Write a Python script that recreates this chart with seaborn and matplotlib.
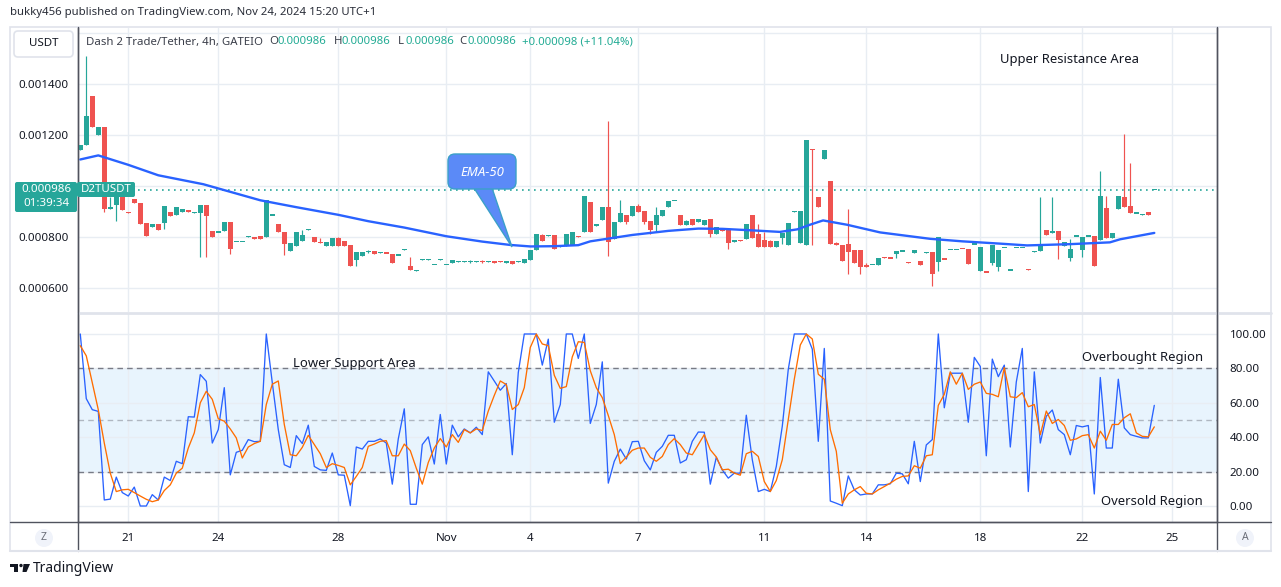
import numpy as np
import pandas as pd
import matplotlib
matplotlib.use("Agg")
import matplotlib.pyplot as plt
import seaborn as sns
from matplotlib.patches import Rectangle, FancyBboxPatch, Polygon, Circle
from matplotlib.lines import Line2D
from matplotlib.transforms import IdentityTransform

# ---------------- data (prices in millionths of USDT) ----------------
opens = [1143,1159,1354,1200,1230,909,925,956,899,948,933,855,840,850,855,897,887,897,905,896,
         893,926,825,818,825,858,783,783,800,801,805,801,886,852,818,747,766,786,829,800,
         781,766,766,796,786,769,708,727,741,745,739,740,734,729,749,688,668,710,710,690,
         710,690,698,703,703,703,703,705,703,705,705,698,705,703,698,711,748,808,804,808,
         760,766,769,805,821,938,842,868,918,792,860,886,883,920,901,864,847,883,917,941,
         886,848,870,859,847,870,812,835,831,782,788,792,886,812,788,784,761,796,769,899,
         776,769,1146,956,1104,1018,776,769,773,749,749,691,690,689,721,718,734,744,702,738,
         707,739,742,702,714,751,751,757,753,771,667,664,699,684,759,670,759,759,674,743,
         745,827,816,823,765,718,803,749,803,804,788,914,796,910,956,921,893,888,897,986]
closes = [1159,1276,1230,1230,909,917,956,906,895,933,852,805,852,827,922,883,918,909,897,898,
          926,883,801,821,858,753,784,784,802,794,794,944,888,818,773,777,818,808,831,779,
          775,779,796,766,766,688,740,740,743,734,741,736,698,731,751,669,670,712,712,692,
          712,692,709,705,705,705,705,703,705,698,703,705,695,705,713,749,812,786,806,751,
          766,812,821,801,959,821,851,918,782,860,896,860,920,897,860,829,886,906,942,943,
          848,863,847,870,866,812,839,823,776,788,786,851,796,761,761,761,784,816,855,901,
          901,1182,1140,918,1143,773,767,704,742,698,684,684,692,717,716,716,745,746,700,749,
          689,741,656,801,712,753,753,755,695,773,761,662,769,749,761,672,761,761,672,745,
          769,809,823,788,781,753,805,800,805,687,960,796,816,960,918,895,895,890,887,986]
highs = [1159,1510,1354,1230,1230,956,956,956,899,948,933,855,852,850,922,897,918,909,905,898,
         926,926,825,821,858,858,784,784,802,801,805,944,888,852,818,777,818,828,831,800,
         796,779,796,800,786,769,740,740,750,745,741,740,734,731,751,721,670,712,712,692,
         712,692,709,705,705,709,705,709,705,705,705,705,705,705,713,749,812,812,806,808,
         766,812,821,805,959,938,851,918,1256,860,944,886,920,929,901,864,916,906,942,943,
         886,868,870,870,866,870,839,835,831,788,788,851,886,851,821,788,784,816,855,901,
         901,1182,1146,956,1143,1018,780,769,909,749,749,699,692,717,721,718,745,746,702,749,
         707,741,742,801,714,753,753,757,753,773,761,664,769,749,761,672,761,761,674,745,
         956,827,956,823,781,792,805,800,805,804,1057,960,816,960,1202,1089,895,890,897,986]
lows = [1143,1159,1230,1200,897,909,862,906,895,933,852,805,840,827,831,883,887,897,897,896,
        723,723,801,818,825,734,783,783,800,794,794,801,886,818,731,747,766,786,829,779,
        775,766,766,766,766,688,686,727,737,734,739,736,698,729,749,669,668,710,710,690,
        710,690,698,703,703,700,703,700,703,698,703,698,695,703,698,711,748,786,804,751,
        760,766,769,801,821,821,842,868,725,792,860,851,883,897,851,812,821,883,917,941,
        848,848,847,859,847,801,812,823,753,782,786,792,796,761,761,761,761,773,769,899,
        776,769,769,918,1104,773,767,704,656,698,656,684,690,689,716,716,718,744,700,738,
        689,739,607,665,712,751,751,755,695,771,667,662,690,667,759,670,759,759,672,743,
        745,809,816,714,765,706,803,722,803,687,788,796,796,910,918,895,893,888,887,986]

ema_idx = [0, 3, 8, 13, 20.5, 30, 36, 43, 48, 54, 61, 67, 71.6, 75, 79, 83, 85, 92, 98, 103, 107,
           112, 116.6, 119.5, 121.6, 123.8, 127.8, 133.3, 141.6, 147, 153.3, 157.8, 165, 171.6, 173.3, 179]
ema_vals = [1104, 1120, 1083, 1042, 1007, 944, 917, 887, 862, 837, 803, 782, 769, 763, 764, 768, 783,
            808, 824, 833, 832, 826, 820, 830, 848, 865, 848, 818, 793, 783, 774, 767, 772, 779, 791, 816]

stoch_k = [100,62.4,56,55,3.5,4,16.8,7.8,5.8,11,0,0,6.6,3.5,16.8,14.8,26,24.6,51.9,51.7,
           76.4,72.5,36.6,44.4,68.8,18.1,31.2,32.4,38.6,37.4,37.6,100,71.7,44.4,24,22.4,40.9,36.3,47,23,
           21,20.7,30.8,18.1,17.9,0.2,34.3,33.1,37.6,37.6,39,36.6,12.7,39,56.5,1,1,35.7,40.2,24.4,
           53.2,24.4,47,40.2,44.8,42.5,45.8,41.5,78,72.7,67.3,71.2,29.8,77.6,100,100,100,81.9,97,48.7,
           59,100,100,85.8,100,48,59,83.8,13.3,26,33.1,27.3,37.4,37.6,26.3,21,31.2,34.7,41.1,41.1,
           25,26.9,37.6,43,42.9,12.7,28.3,21,16.2,19.1,19.1,52.8,26.9,8.4,9.7,8.4,23,46.4,79.5,100,
           100,100,91.2,37.6,91.6,2.9,1.6,0.2,17.5,9.4,6.4,7,7,12.3,12.3,12.9,19.1,18.7,12.9,37.6,
           14.2,35.5,38.6,100,57.1,77.2,77.2,77.2,48.7,86.4,81.1,29.2,85.4,75.2,81.9,34.3,72.1,91.6,8.4,78,
           36.6,52.2,55.8,44.4,41.5,29.8,46.8,46,46.8,7,74.7,33.7,33.7,73.7,45.4,41.5,40.5,39.6,39.6,58.5]
stoch_d = [93.2,87.3,71.7,56,36.6,19.1,8.4,9.4,9.7,7.8,5.8,3.9,2.5,3.5,9,12.3,19.1,22,33.7,42.5,
           60,66.7,62,50.7,49.3,44.8,39.6,27.9,34.3,36.3,37.6,59,70.8,72.7,47.4,29.8,29.2,34.1,41.1,35.7,
           30.4,22.4,24.6,23.6,22.4,12.3,17.2,22.4,34.7,36,37.6,38,29.2,29.2,36,32.2,22,12.7,25.3,33.7,
           39.2,34.3,41.5,37,44.4,42.5,44.8,43.9,55.2,64.3,72.7,70.6,56.1,59,68.8,92.2,100,94.2,93.2,76,
           68.4,69.4,86.7,95.5,95.1,78.6,68.8,63,52.6,41.5,24.6,28.5,32.4,33.7,33.7,28.3,26,28.8,35.7,39.2,
           35.7,30.8,29.8,35.7,41.5,32.7,28.5,21,21.4,19.1,17.9,30.4,31.8,28.8,14.2,8.4,14.8,26.9,50.3,73.7,
           93.6,100,97.1,76.6,73.7,44.4,31.8,1.6,7,9.4,11.3,7.4,7,9.4,11.3,13.3,15.6,17.2,17.5,23.4,
           22,29.2,29.8,58.5,64.9,78,70.8,77.2,67.8,70.8,72.1,65.5,64.9,63.5,80.5,63.5,63,65.9,57.7,59,
           41.5,55.2,48,50.3,46.8,38.2,39,40.9,41.5,33.7,43.5,38.2,47.4,47.4,51.3,53.6,42.5,40.5,40.2,46]

tick_pos = [8, 23, 43, 61, 75, 93, 114, 131, 150, 167, 182]
tick_labels = ["21", "24", "28", "Nov", "4", "7", "11", "14", "18", "22", "25"]
price_ticks = [0.0006, 0.0008, 0.0010, 0.0012, 0.0014, 0.0016]
price_tick_labels = ["0.000600", "0.000800", "", "0.001200", "0.001400", ""]
stoch_ticks = [0, 20, 40, 60, 80, 100]
last_price = 0.000986

# ---------------- styling ----------------
sns.set_theme(style="white")
plt.rcParams['font.family'] = ['Noto Sans', 'DejaVu Sans']

GREEN, RED, BLUE, ORANGE = '#26a69a', '#ef5350', '#2962ff', '#ff6d00'
GRID, DARK, TXT = '#e8edf3', '#50535e', '#131722'
W, H = 1281, 587
fig = plt.figure(figsize=(W / 100, H / 100), dpi=100)
fig.patch.set_facecolor('white')
PX = IdentityTransform()


def rect(x0, y0, x1, y1):
    return [x0 / W, 1 - y1 / H, (x1 - x0) / W, (y1 - y0) / H]


def ptext(x, y, s, **kw):
    return fig.text(x, H - y, s, transform=PX, **kw)


def pline(xs, ys, **kw):
    fig.add_artist(Line2D(xs, [H - v for v in ys], transform=PX, **kw))


xmin, xmax = -0.38, 189.45
ax = fig.add_axes(rect(78, 28, 1217, 312))
ax2 = fig.add_axes(rect(78, 313, 1217, 522))

# ---------------- price panel ----------------
o = np.array(opens) * 1e-6
c = np.array(closes) * 1e-6
h = np.array(highs) * 1e-6
l = np.array(lows) * 1e-6
idx = np.arange(len(o))
cols = np.where(c >= o, GREEN, RED)
ax.vlines(idx, l, h, colors=cols, lw=0.85, zorder=3)
bot = np.minimum(o, c)
hgt = np.abs(c - o)
minh = 5.5e-6
small = hgt < minh
bot = np.where(small, (o + c) / 2 - minh / 2, bot)
hgt = np.where(small, minh, hgt)
ax.bar(idx, hgt, bottom=bot, width=0.8, color=cols, lw=0, zorder=4)

ema_df = pd.DataFrame({"i": ema_idx, "ema": np.array(ema_vals) * 1e-6})
sns.lineplot(data=ema_df, x="i", y="ema", ax=ax, color=BLUE, lw=1.7, zorder=5)
ax.axhline(last_price, color=GREEN, ls=(0, (1, 2.6)), lw=1.2, zorder=2)

ax.set_xlim(xmin, xmax)
ax.set_ylim(0.0005059, 0.0016196)
ax.set_yticks(price_ticks)
ax.set_yticklabels(price_tick_labels)
ax.set_xticks(tick_pos)
ax.set_xticklabels([])
ax.grid(True, color=GRID, lw=1)
ax.set_axisbelow(True)
ax.tick_params(axis='y', length=0, pad=7, labelsize=8.3, labelcolor=TXT)
ax.tick_params(axis='x', length=0)
ax.set_xlabel('')
ax.set_ylabel('')
for s in ['top', 'bottom']:
    ax.spines[s].set_visible(False)
for s in ['left', 'right']:
    ax.spines[s].set_color(DARK)
    ax.spines[s].set_linewidth(1)

# ---------------- stoch RSI panel ----------------
ax2.axhspan(20, 80, color='#2196f3', alpha=0.1, lw=0, zorder=0)
st = pd.DataFrame({"i": idx, "k": stoch_k, "d": stoch_d})
sns.lineplot(data=st, x="i", y="k", ax=ax2, color=BLUE, lw=0.95, zorder=4)
sns.lineplot(data=st, x="i", y="d", ax=ax2, color=ORANGE, lw=0.95, zorder=5)
ax2.axhline(80, color='#787b86', ls=(0, (4, 3)), lw=1, zorder=2)
ax2.axhline(20, color='#787b86', ls=(0, (4, 3)), lw=1, zorder=2)
ax2.axhline(50, color='#787b86', alpha=0.5, ls=(0, (4, 3)), lw=1, zorder=2)
ax2.set_xlim(xmin, xmax)
ax2.set_ylim(-9.3, 112.2)
ax2.yaxis.tick_right()
ax2.set_yticks(stoch_ticks)
ax2.set_yticklabels([f"{v:.2f}" for v in stoch_ticks])
ax2.set_xticks(tick_pos)
ax2.set_xticklabels(tick_labels)
ax2.grid(True, color=GRID, lw=1)
ax2.set_axisbelow(True)
ax2.tick_params(axis='y', length=0, pad=9, labelsize=8.3, labelcolor=TXT)
ax2.tick_params(axis='x', length=0, pad=8, labelsize=8.3, labelcolor=TXT)
ax2.set_xlabel('')
ax2.set_ylabel('')
ax2.spines['top'].set_visible(False)
for s in ['left', 'right', 'bottom']:
    ax2.spines[s].set_color(DARK)
    ax2.spines[s].set_linewidth(1)

# ---------------- frame & decorations ----------------
fig.add_artist(Rectangle((10, H - 551), 1261, 524, transform=PX, fill=False,
                         ec='#e0e3eb', lw=1.2, zorder=0))
pline([78, 1271], [312.5, 312.5], color='#e0e3eb', lw=2)
pline([10, 1271], [522, 522], color=DARK, lw=1)
pline([77.5, 77.5], [27, 551], color=DARK, lw=1)
pline([1217, 1217], [27, 551], color=DARK, lw=1)
pline([10, 1271], [550.5, 550.5], color='#e0e3eb', lw=1.5)

ptext(10, 13, "bukky456 published on TradingView.com, Nov 24, 2024 15:20 UTC+1",
      fontsize=8.2, color='#2a2e39', va='center', ha='left')

# USDT box
fig.add_artist(FancyBboxPatch((14, H - 57), 59, 26, boxstyle="round,pad=0,rounding_size=4",
                              transform=PX, fc='white', ec='#e0e3eb', lw=1.2))
ptext(43.5, 44, "USDT", fontsize=8.3, color=TXT, ha='center', va='center')

# header legend
GRAYT, VAL = '#3b3f4a', '#22ab94'
segs = [("Dash 2 Trade/Tether, 4h, GATEIO", 86, GRAYT), ("O", 269, GRAYT), ("0.000986", 277, VAL),
        ("H", 334, GRAYT), ("0.000986", 342, VAL), ("L", 398, GRAYT), ("0.000986", 405, VAL),
        ("C", 459, GRAYT), ("0.000986", 467, VAL), ("+0.000098 (+11.04%)", 522, VAL)]
for s, x, col in segs:
    ptext(x, 42, s, fontsize=8.2, color=col, ha='left', va='center')

# last price labels
fig.add_artist(FancyBboxPatch((15, H - 212), 62, 30, boxstyle="round,pad=0,rounding_size=2",
                              transform=PX, fc=GREEN, ec='none', zorder=10))
fig.add_artist(FancyBboxPatch((77, H - 197), 58, 15, boxstyle="round,pad=0,rounding_size=2",
                              transform=PX, fc=GREEN, ec='none', zorder=10))
ptext(46, 190, "0.000986", fontsize=8.3, color='white', weight='bold', ha='center', va='center', zorder=11)
ptext(46, 204, "01:39:34", fontsize=8.3, color='white', ha='center', va='center', zorder=11)
ptext(106, 190, "D2TUSDT", fontsize=8.3, color='white', weight='bold', ha='center', va='center', zorder=11)

# EMA-50 callout
fig.add_artist(Polygon([(474, H - 188), (492, H - 188), (512, H - 247)], closed=True,
                       transform=PX, fc='#5b8af7', ec='#3aa0c8', lw=1, zorder=12))
fig.add_artist(FancyBboxPatch((448, H - 189), 68, 35, boxstyle="round,pad=0,rounding_size=7",
                              transform=PX, fc='#5b8af7', ec='#3aa0c8', lw=1, zorder=12))
ptext(482, 172, "EMA-50", fontsize=9.5, color='white', style='italic', weight='semibold',
      ha='center', va='center', zorder=13)

# region notes
ptext(1070, 60, "Upper Resistance Area", fontsize=9.4, color=TXT, ha='center', va='center')
ptext(354, 363, "Lower Support Area", fontsize=9.4, color=TXT, ha='center', va='center', zorder=6)
ptext(1143, 357, "Overbought Region", fontsize=9.4, color=TXT, ha='center', va='center', zorder=6)
ptext(1152, 502, "Oversold Region", fontsize=9.4, color=TXT, ha='center', va='center', zorder=6)

# Z / A buttons
for x, s in [(44, "Z"), (1245, "A")]:
    fig.add_artist(Circle((x, H - 538), 9, transform=PX, fc='#f0f3fa', ec='none'))
    ptext(x, 538, s, fontsize=7.5, color='#6a6d78', ha='center', va='center')

# TradingView logo
fig.add_artist(Rectangle((10, H - 567), 8, 3, transform=PX, fc='#131722', ec='none'))
fig.add_artist(Rectangle((14, H - 572), 4, 8, transform=PX, fc='#131722', ec='none'))
fig.add_artist(Circle((21, H - 565.5), 1.7, transform=PX, fc='#131722', ec='none'))
fig.add_artist(Polygon([(23.5, H - 564), (30, H - 564), (26.5, H - 572), (22.5, H - 572)],
                       transform=PX, fc='#131722', ec='none'))
ptext(33, 569, "TradingView", fontsize=10, color='#131722', ha='left', va='center')

fig.savefig("out.png", dpi=100)
